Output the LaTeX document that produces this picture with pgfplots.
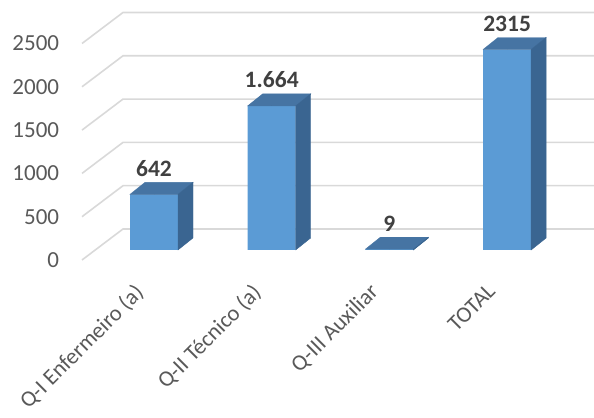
\documentclass[border=0pt]{standalone}
\usepackage{pgfplots}
\pgfplotsset{compat=1.18}
\usepackage{pgfplotstable}
\usepackage{fontspec}
\setmainfont{Carlito}
\definecolor{frontcol}{HTML}{5B9BD5}
\definecolor{topcol}{HTML}{4674A3}
\definecolor{sidecol}{HTML}{3A6591}
\definecolor{gridcol}{HTML}{D9D9D9}
\definecolor{ticktext}{HTML}{595959}
\definecolor{labeltext}{HTML}{404040}
\pgfplotstableread{
x v label
0 642 642
1 1664 1.664
2 9 9
3 2315 2315
}\data
\begin{document}
\begin{tikzpicture}
\begin{axis}[
  x=117.7pt, y=0.0866pt,
  xmin=-1.3084, xmax=3.7383,
  ymin=-1939.95, ymax=2886.8,
  axis line style={draw=none},
  major tick length=0pt,
  clip=false,
  xtick={0,1,2,3},
  xticklabels={Q-I Enfermeiro (a), Q-II Técnico (a), Q-III Auxiliar, TOTAL},
  ytick={0,500,1000,1500,2000,2500},
  /pgf/number format/assume math mode=true,
  /pgf/number format/1000 sep={},
  ticklabel style={text=ticktext, inner sep=0pt},
  yticklabel style={font=\fontsize{23}{27}\selectfont, anchor=east, xshift=59.3pt, yshift=-10pt},
  xticklabel style={font=\fontsize{22.5}{26}\selectfont, xshift=-21pt, yshift=136pt, rotate=45, anchor=north east},
]
\pgfplotsinvokeforeach{0,500,1000,1500,2000,2500}{
  \draw[gridcol, line width=1.6pt] (axis cs:-0.6117,{#1-115.5}) -- (axis cs:-0.2634,{#1+242.5}) -- (axis cs:3.7383,{#1+242.5});
}
\addplot[scatter, only marks, mark=*, mark size=0pt, mark options={draw=none,fill=none},
  visualization depends on={\thisrow{v} \as \rawv},
  scatter/@pre marker code/.code={
    \fill[topcol] (-24pt,0pt) -- (-9pt,12pt) -- (39pt,12pt) -- (24pt,0pt) -- cycle;
    \fill[sidecol] (24pt,0pt) -- (39pt,12pt) -- ({39pt},{12pt-\rawv*0.0866pt}) -- ({24pt},{-\rawv*0.0866pt}) -- cycle;
  },
  scatter/@post marker code/.code={},
] table[x=x, y=v] {\data};
\addplot[ybar, bar width=48pt, fill=frontcol, draw=none] table[x=x, y=v] {\data};
\addplot[draw=none, mark=none, nodes near coords, point meta=explicit symbolic,
  every node near coord/.append style={font=\bfseries\fontsize{23.5}{28}\selectfont, text=labeltext, anchor=south, inner sep=0pt, yshift=18pt}]
  table[x=x, y=v, meta=label] {\data};
\end{axis}
\pgfresetboundingbox
\path[use as bounding box] (current axis.south west) rectangle (current axis.north east);
\end{tikzpicture}
\end{document}
